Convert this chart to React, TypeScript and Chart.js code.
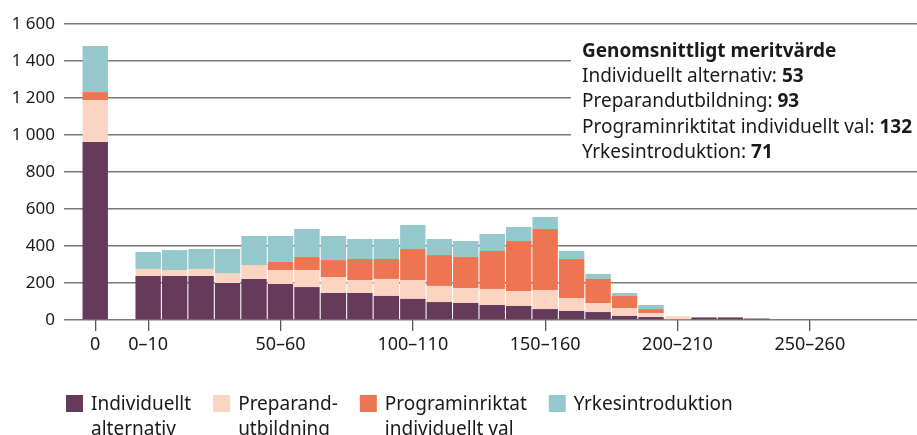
import React, { useEffect, useRef } from "react";
import { Chart, registerables } from "chart.js";

Chart.register(...registerables);

// ---- Data ----
const categories = [
  "0", "0–10", "10–20", "20–30", "30–40", "40–50", "50–60", "60–70", "70–80", "80–90",
  "90–100", "100–110", "110–120", "120–130", "130–140", "140–150", "150–160", "160–170",
  "170–180", "180–190", "190–200", "200–210", "210–220", "220–230", "230–240",
];
const individuelltAlternativ = [962, 238, 238, 238, 200, 222, 195, 178, 146, 146, 130, 114, 97, 92, 81, 76, 59, 49, 43, 22, 16, 2, 14, 14, 8];
const preparandutbildning = [227, 38, 32, 38, 54, 75, 75, 92, 86, 70, 92, 102, 87, 81, 87, 81, 103, 70, 49, 43, 22, 18, 0, 0, 0];
const programinriktat = [43, 0, 0, 0, 0, 0, 44, 71, 92, 114, 108, 168, 167, 168, 205, 270, 330, 211, 130, 65, 21, 0, 0, 0, 0];
const yrkesintroduktion = [249, 92, 108, 108, 130, 157, 140, 151, 130, 108, 108, 130, 87, 86, 92, 76, 65, 43, 27, 16, 22, 0, 0, 0, 0];

const xTickLabels = ["0", "0–10", "50–60", "100–110", "150–160", "200–210", "250–260"];
const yTicks = [0, 200, 400, 600, 800, 1000, 1200, 1400, 1600];

const seriesNames = [
  ["Individuellt", "alternativ"],
  ["Preparand-", "utbildning"],
  ["Programinriktat", "individuellt val"],
  ["Yrkesintroduktion"],
];
const seriesColors = ["#663a5b", "#fbd4c2", "#ed7552", "#94c8cc"];

const noteTitle = "Genomsnittligt meritvärde";
const noteLabels = ["Individuellt alternativ: ", "Preparandutbildning: ", "Programinriktitat individuellt val: ", "Yrkesintroduktion: "];
const noteValues = ["53", "93", "132", "71"];

// ---- helpers ----
const FONT = '"Noto Sans", sans-serif';
const TEXT = "#1a1a1a";
const TEXT_SIZE = 19;
// "0" sits two bins to the left of the 0–10 bin; bins are centred on their midpoint
const centerOf = (label: string) => (label === "0" ? -15 : parseInt(label, 10) + 5);
const fmt = (v: number) => (v >= 1000 ? `${Math.floor(v / 1000)} ${String(v % 1000).padStart(3, "0")}` : String(v));

const overlayPlugin = {
  id: "overlay",
  beforeDatasetsDraw(chart: any) {
    const { ctx, chartArea } = chart;
    ctx.save();
    // white panel behind the note
    ctx.fillStyle = "#ffffff";
    ctx.fillRect(571, 38, chartArea.right - 571 + 2, 128);
    ctx.fillStyle = TEXT;
    ctx.textBaseline = "alphabetic";
    ctx.textAlign = "left";
    const x0 = 582;
    ctx.font = `bold ${TEXT_SIZE}px ${FONT}`;
    ctx.fillText(noteTitle, x0, 57);
    noteLabels.forEach((lab, i) => {
      const y = 57 + 25.2 * (i + 1);
      ctx.font = `${TEXT_SIZE}px ${FONT}`;
      ctx.fillText(lab, x0, y);
      const w = ctx.measureText(lab).width;
      ctx.font = `bold ${TEXT_SIZE}px ${FONT}`;
      ctx.fillText(noteValues[i], x0 + w, y);
    });
    ctx.restore();
  },
  afterDraw(chart: any) {
    const { ctx } = chart;
    ctx.save();
    ctx.font = `${TEXT_SIZE}px ${FONT}`;
    ctx.textBaseline = "alphabetic";
    ctx.textAlign = "left";
    let x = 66;
    const box = 17;
    chart.data.datasets.forEach((ds: any, i: number) => {
      ctx.fillStyle = ds.backgroundColor;
      ctx.fillRect(x, 395, box, box);
      ctx.fillStyle = TEXT;
      const lines: string[] = seriesNames[i];
      let maxW = 0;
      lines.forEach((ln, j) => {
        ctx.fillText(ln, x + box + 8, 410 + j * 24.5);
        maxW = Math.max(maxW, ctx.measureText(ln).width);
      });
      x = x + box + 8 + maxW + 22;
    });
    ctx.restore();
  },
};

export default function App() {
  const ref = useRef<HTMLCanvasElement | null>(null);
  useEffect(() => {
    if (!ref.current) return;
    Chart.defaults.font.family = FONT;
    Chart.defaults.font.size = 17;
    Chart.defaults.color = TEXT;
    const series = [individuelltAlternativ, preparandutbildning, programinriktat, yrkesintroduktion];
    const chart = new Chart(ref.current, {
      type: "bar",
      data: {
        datasets: series.map((vals, i) => ({
          label: seriesNames[i].join(" "),
          data: categories.map((c, k) => ({ x: centerOf(c), y: vals[k] })),
          backgroundColor: seriesColors[i],
          borderWidth: 0,
          barPercentage: 0.96,
          categoryPercentage: 1,
        })),
      },
      options: {
        animation: false,
        responsive: false,
        layout: { padding: { top: 24, left: 0, right: 0, bottom: 0 } },
        plugins: { legend: { display: false }, tooltip: { enabled: false } },
        scales: {
          x: {
            type: "linear",
            stacked: true,
            offset: false,
            min: -26.8,
            max: 295.5,
            border: { display: false },
            grid: { offset: false, drawOnChartArea: false, drawTicks: true, tickLength: 11, color: "#555", lineWidth: 1.3 },
            ticks: {
              autoSkip: false,
              maxRotation: 0,
              padding: 3,
              color: TEXT,
              font: { size: 18, family: FONT },
              callback: (v: any) => {
                const idx = xTickLabels.findIndex((l) => centerOf(l) === v);
                return idx >= 0 ? xTickLabels[idx] : "";
              },
            },
            afterBuildTicks: (scale: any) => {
              scale.ticks = xTickLabels.map((l) => ({ value: centerOf(l) }));
            },
            afterFit: (scale: any) => {
              scale.height = 115;
            },
          },
          y: {
            stacked: true,
            min: 0,
            max: 1600,
            border: { display: false },
            grid: { drawTicks: false, color: "#7a7a7a", lineWidth: 1.5 },
            ticks: {
              padding: 9,
              color: TEXT,
              font: { size: 17, family: FONT },
              callback: (v: any) => fmt(Number(v)),
            },
            afterBuildTicks: (scale: any) => {
              scale.ticks = yTicks.map((v) => ({ value: v }));
            },
            afterFit: (scale: any) => {
              scale.width = 64;
            },
          },
        },
      },
      plugins: [overlayPlugin],
    } as any);
    return () => chart.destroy();
  }, []);
  return (
    <div style={{ position: "absolute", left: 0, top: 0, width: 917, height: 435, background: "#fff" }}>
      <canvas ref={ref} width={917} height={435} style={{ display: "block" }} />
    </div>
  );
}
